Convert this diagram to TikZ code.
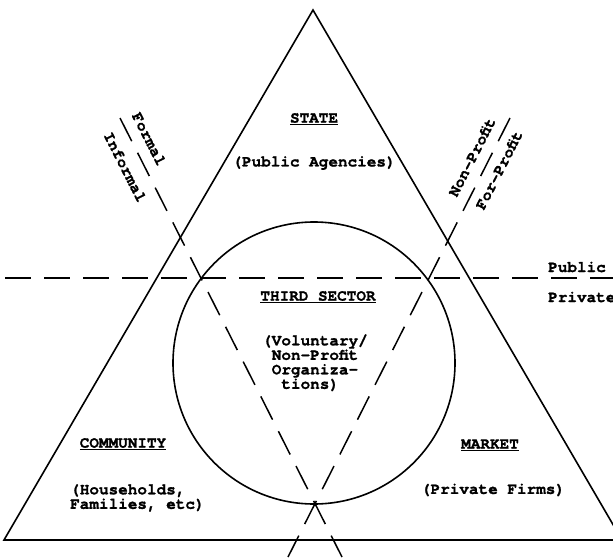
\documentclass[tikz,border=0pt]{standalone}
\usepackage{fontspec}
\setmainfont[BoldFeatures={FakeBold=1.2}]{TeX Gyre Cursor}
\begin{document}
\begin{tikzpicture}[x=1pt,y=-1pt,
  edge/.style={line width=1.6pt, line join=miter},
  ring/.style={circle, draw, line width=1.6pt, inner sep=0pt},
  divider/.style={line width=1.5pt, dash pattern=on 26pt off 13pt},
  lbl/.style={font=\bfseries\fontsize{16}{14.5}\selectfont, inner sep=0pt},
  leftrot/.style={lbl, rotate=-63},
  rightrot/.style={lbl, rotate=63}]
\useasboundingbox (0,0) rectangle (613,557);
% triangle
\coordinate (apex) at (313,10);
\coordinate (bl) at (4,540);
\coordinate (br) at (622,540);
\draw[edge] (apex) -- (bl) -- (br) -- cycle;
% circle
\node[ring, minimum size=282pt] (circ) at (314,363) {};
% dividers
\coordinate (hL) at (5,278);
\coordinate (hR) at (613,278);
\draw[divider] (hL) -- (hR);
\coordinate (dL1) at (120,118);
\coordinate (dL2) at (342,557);
\coordinate (dR1) at (510,118);
\coordinate (dR2) at (288,557);
\draw[divider] (dL1) -- (dL2);
\draw[divider] (dR1) -- (dR2);
% labels
\node[lbl] (state) at (314,119) {\underline{STATE}};
\node[lbl] (statesub) at (314,163) {(Public Agencies)};
\node[lbl] (third) at (318,297) {\underline{THIRD SECTOR}};
\node[lbl, align=left, anchor=north west] (thirdsub) at (262,334)
  {(Voluntary/\\\hspace*{0.6em}Non-Profit\\\hspace*{0.6em}Organiza-\\\hspace*{1.2em}tions)};
\node[lbl] (community) at (123,444) {\underline{COMMUNITY}};
\node[lbl, align=left, anchor=north west] (communitysub) at (70,484)
  {(Households,\\Families, etc)};
\node[lbl] (market) at (490,445) {\underline{MARKET}};
\node[lbl] (marketsub) at (493,490) {(Private Firms)};
\node[lbl, anchor=base west] (public) at (548,272) {Public};
\node[lbl, anchor=base west] (private) at (548,302) {Private};
\node[leftrot] (formal) at (149,139) {Formal};
\node[leftrot] (informal) at (125,167) {Informal};
\node[rightrot] (nonprofit) at (472,157) {Non-Profit};
\node[rightrot] (forprofit) at (499,170) {For-Profit};
\end{tikzpicture}
\end{document}
